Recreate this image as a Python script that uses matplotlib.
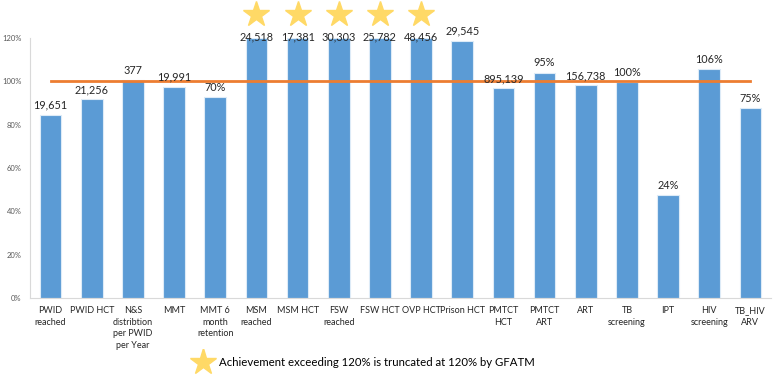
import matplotlib.pyplot as plt
import numpy as np

plt.rcParams['font.family'] = ['Lato', 'DejaVu Sans']

categories = ['PWID\nreached', 'PWID HCT', 'N&S\ndistribtion\nper PWID\nper Year', 'MMT',
              'MMT 6\nmonth\nretention', 'MSM\nreached', 'MSM HCT', 'FSW\nreached', 'FSW HCT',
              'OVP HCT', 'Prison HCT', 'PMTCT\nHCT', 'PMTCT\nART', 'ART', 'TB\nscreening',
              'IPT', 'HIV\nscreening', 'TB_HIV\nARV']
achievement = [84.5, 91.7, 100.5, 97.5, 92.9, 120, 120, 120, 120, 120, 118.8,
               96.8, 104, 98.1, 99.8, 47.5, 105.8, 87.8]
labels = ['19,651', '21,256', '377', '19,991', '70%', '24,518', '17,381', '30,303', '25,782',
          '48,456', '29,545', '895,139', '95%', '156,738', '100%', '24%', '106%', '75%']
starred = ['MSM\nreached', 'MSM HCT', 'FSW\nreached', 'FSW HCT', 'OVP HCT']
target = 100

fig = plt.figure(figsize=(7.8, 3.77), dpi=100)
ax = fig.add_axes([30/780, 79/377, 741/780, 260/377])

x = np.arange(len(categories))
ax.bar(x, achievement, width=0.53, color='#5B9BD5', edgecolor='#DDEBF7', linewidth=0.8, zorder=2)
ax.plot([x[0], x[-1]], [target, target], color='#ED7D31', lw=2, zorder=3)

for xi, v, lab in zip(x, achievement, labels):
    off = -3 if v >= 120 else 3
    ax.annotate(lab, (xi, v), xytext=(0, off), textcoords='offset points',
                ha='center', va='bottom', fontsize=7.8, color='#262626', zorder=4,
                annotation_clip=False)

for xi, c in zip(x, categories):
    if c in starred:
        ax.plot(xi, 131, marker='*', ms=19, color='#FFD966', mec='#FFD966', clip_on=False)

ax.set_xlim(-0.5, len(categories) - 0.5)
ax.set_ylim(0, 120)
ax.set_yticks(np.arange(0, 121, 20))
ax.set_yticklabels([f'{t}%' for t in range(0, 121, 20)], fontsize=5.5, color='#595959')
ax.set_xticks(x)
ax.set_xticklabels(categories, fontsize=6.5, color='#262626', linespacing=1.35)
ax.tick_params(length=0, pad=6)
for s in ['top', 'right']:
    ax.spines[s].set_visible(False)
ax.spines['left'].set_color('#D9D9D9')
ax.spines['bottom'].set_color('#D9D9D9')

leg = fig.add_axes([190/780, 1 - 375/377, 26/780, 26/377])
leg.plot(0, 0, marker='*', ms=20, color='#FFD966', mec='#FFD966')
leg.axis('off')
fig.text(219/780, 1 - 362/377, 'Achievement exceeding 120% is truncated at 120% by GFATM',
         fontsize=8.2, color='#000000', ha='left', va='center')

fig.savefig('out.png', dpi=100)
